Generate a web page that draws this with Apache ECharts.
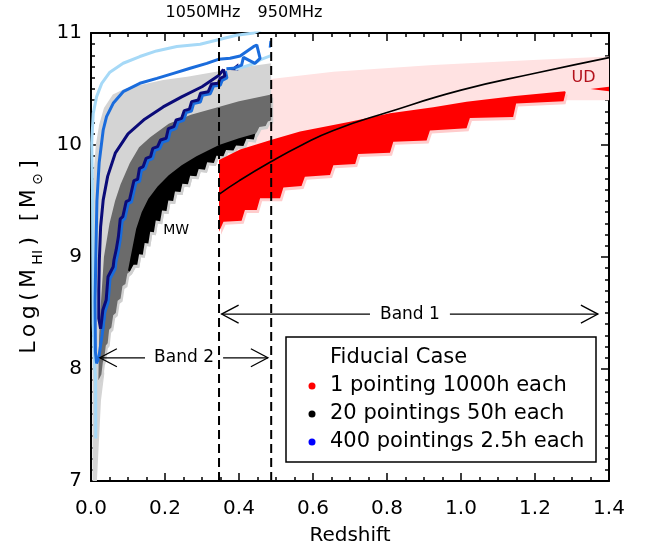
<!DOCTYPE html>
<html>
<head>
<meta charset="utf-8">
<script src="https://cdn.jsdelivr.net/npm/echarts@6/dist/echarts.min.js"></script>
<style>
html, body { margin: 0; padding: 0; background: #fff; }
#chart1 { width: 648px; height: 554px; }
</style>
</head>
<body>
<div id="chart1"></div>
<script>
// all points are [redshift, log M_HI]
var pinkTop = [[0.346, 10.50], [0.486, 10.59], [0.655, 10.655], [0.925, 10.714], [1.195, 10.759], [1.40, 10.79]];
var pinkBottom = [[1.40, 10.40], [1.285, 10.40], [1.0, 10.30], [0.8, 10.2], [0.6, 10.05], [0.346, 9.8]];
var redTop = [[0.346, 9.866], [0.403, 9.96], [0.486, 10.045], [0.565, 10.12], [0.70, 10.208], [0.808, 10.283],
    [0.925, 10.336], [1.015, 10.387], [1.146, 10.437], [1.281, 10.48]];
var redSteps = [[0.346, 9.226], [0.358, 9.315], [0.407, 9.324], [0.416, 9.42], [0.448, 9.42], [0.457, 9.524],
    [0.511, 9.524], [0.52, 9.62], [0.569, 9.634], [0.578, 9.717], [0.646, 9.732], [0.655, 9.82], [0.714, 9.83],
    [0.722, 9.92], [0.808, 9.93], [0.817, 10.03], [0.907, 10.04], [0.916, 10.13], [1.015, 10.15], [1.024, 10.24],
    [1.141, 10.25], [1.149, 10.37], [1.277, 10.39], [1.283, 10.47]];
var udWedge = [[1.35, 10.50], [1.40, 10.52], [1.40, 10.48]];

var lightGreyTop = [[0.004, 7.0], [0.004, 9.3], [0.007, 9.75], [0.013, 10.0], [0.022, 10.18], [0.035, 10.33],
    [0.059, 10.45], [0.09, 10.5], [0.124, 10.53], [0.195, 10.58], [0.26, 10.61], [0.33, 10.65], [0.4, 10.69], [0.487, 10.73]];
var lightGreyBottom = [[0.487, 10.35], [0.3, 10.15], [0.15, 9.85], [0.08, 9.4], [0.05, 9.0], [0.035, 8.5],
    [0.03, 8.1], [0.036, 7.96], [0.027, 7.72], [0.016, 7.0]];
var darkGreyLeft = [[0.02, 7.9], [0.022, 8.3], [0.027, 8.6], [0.035, 9.0], [0.05, 9.3], [0.065, 9.5], [0.08, 9.65],
    [0.105, 9.84], [0.13, 9.98], [0.16, 10.07], [0.21, 10.19], [0.27, 10.27], [0.345, 10.34], [0.40, 10.39], [0.487, 10.45]];
var darkGreyRight = [[0.487, 10.22], [0.478, 10.21], [0.472, 10.17], [0.455, 10.16], [0.449, 10.12]];
var darkGreyLowSteps = [[0.098, 8.85], [0.093, 8.76], [0.085, 8.74], [0.08, 8.63], [0.072, 8.61], [0.067, 8.5],
    [0.06, 8.48], [0.055, 8.37], [0.049, 8.35], [0.045, 8.23], [0.04, 8.21], [0.036, 8.1], [0.032, 8.06], [0.028, 7.95], [0.02, 7.9]];
var blackTop = [[0.1, 8.88], [0.11, 9.05], [0.122, 9.25], [0.137, 9.4], [0.155, 9.52], [0.18, 9.63], [0.21, 9.73],
    [0.245, 9.82], [0.285, 9.9], [0.346, 10.0], [0.4, 10.06], [0.443, 10.1]];
var blackSteps = [[0.443, 10.09], [0.440, 10.05], [0.420, 10.055], [0.412, 9.99], [0.392, 9.995], [0.385, 9.95],
    [0.365, 9.955], [0.358, 9.90], [0.339, 9.905], [0.332, 9.84], [0.314, 9.845], [0.308, 9.78], [0.291, 9.785],
    [0.285, 9.72], [0.268, 9.725], [0.262, 9.65], [0.247, 9.655], [0.242, 9.58], [0.227, 9.585], [0.222, 9.50],
    [0.209, 9.505], [0.204, 9.41], [0.192, 9.415], [0.187, 9.32], [0.175, 9.325], [0.170, 9.22], [0.160, 9.225],
    [0.155, 9.12], [0.145, 9.125], [0.140, 9.02], [0.130, 9.025], [0.125, 8.93], [0.115, 8.93], [0.105, 8.87]];

var lightBlueLine = [[0.013, 7.38], [0.0125, 7.9], [0.009, 8.1], [0.006, 8.4], [0.005, 9.0], [0.004, 9.6],
    [0.002, 10.02], [0.006, 10.28], [0.015, 10.43], [0.029, 10.55], [0.051, 10.65], [0.087, 10.73], [0.132, 10.79],
    [0.177, 10.84], [0.232, 10.88], [0.295, 10.90], [0.344, 10.94], [0.393, 10.98], [0.44, 11.0], [0.46, 11.03]];
var lightBlueRight = [[0.39, 10.675], [0.41, 10.695], [0.44, 10.725], [0.46, 10.765], [0.488, 10.80]];
var blueLine = [[0.04, 8.6], [0.03, 8.3], [0.021, 8.1], [0.015, 8.05], [0.012, 8.15], [0.011, 8.6], [0.013, 9.0],
    [0.016, 9.5], [0.022, 9.84], [0.033, 10.134], [0.042, 10.253], [0.06, 10.372], [0.087, 10.476], [0.132, 10.551],
    [0.178, 10.595], [0.223, 10.64], [0.268, 10.685], [0.313, 10.729], [0.344, 10.765], [0.376, 10.774],
    [0.403, 10.795], [0.439, 10.878], [0.448, 10.893], [0.457, 10.774], [0.443, 10.729], [0.412, 10.783],
    [0.407, 10.714], [0.385, 10.685], [0.366, 10.68]];
var blueTick = [[0.483, 10.87], [0.485, 10.93]];
var navyTop = [[0.026, 8.36], [0.021, 8.45], [0.021, 8.7], [0.0225, 8.97], [0.026, 9.27], [0.033, 9.51],
    [0.045, 9.72], [0.066, 9.93], [0.1, 10.1], [0.145, 10.23], [0.195, 10.34], [0.245, 10.43], [0.3, 10.52],
    [0.345, 10.62], [0.358, 10.676]];
var navySteps = [[0.358, 10.676], [0.362, 10.616], [0.349, 10.595], [0.344, 10.551], [0.326, 10.545],
    [0.317, 10.476], [0.296, 10.462], [0.29, 10.402], [0.272, 10.387], [0.266, 10.32], [0.252, 10.307],
    [0.245, 10.238], [0.23, 10.223], [0.224, 10.164], [0.209, 10.146], [0.203, 10.06], [0.188, 10.045],
    [0.18, 9.985], [0.167, 9.97], [0.161, 9.896], [0.149, 9.881], [0.141, 9.807], [0.131, 9.792], [0.126, 9.694],
    [0.116, 9.682], [0.104, 9.509], [0.095, 9.494], [0.086, 9.36], [0.079, 9.34], [0.074, 9.18], [0.068, 9.063],
    [0.062, 8.973], [0.06, 8.913], [0.046, 8.824], [0.041, 8.616], [0.032, 8.527], [0.028, 8.41], [0.026, 8.36]];
var navyWedge = [[0.376, 10.67], [0.398, 10.73], [0.398, 10.665]];

var modelCurve = [[0.346, 9.56], [0.40, 9.68], [0.486, 9.85], [0.57, 10.0], [0.655, 10.13], [0.8, 10.29],
    [1.0, 10.49], [1.2, 10.64], [1.4, 10.78]];
var dashZ = [0.346, 0.487];
// [from, to, level, gap start, gap end]
var band1 = [0.353, 1.37, 8.49, 0.754, 0.97];
var band2 = [0.024, 0.478, 8.1, 0.146, 0.357];
var notes = [['MW', 0.23, 9.24], ['UD', 1.331, 10.6]];

var xTicks = ['0.0', '0.2', '0.4', '0.6', '0.8', '1.0', '1.2', '1.4'];
var legendText = ['Fiducial Case', '1 pointing 1000h each', '20 pointings 50h each', '400 pointings 2.5h each'];
var legendColors = ['#ff0000', '#000000', '#0000ff'];

var FONT = 'DejaVu Sans';
var TS = '\u2009'; // thin space, mimics the wide letter spacing of the original
var chart1 = echarts.init(document.getElementById('chart1'));

function spaced(s) {
    return s.split('').join(TS);
}

function polygon(points, color, shadow) {
    return {
        type: 'custom',
        coordinateSystem: 'cartesian2d',
        clip: true,
        silent: true,
        data: [[0.5, 9]],
        renderItem: function (params, api) {
            var pts = points.map(function (p) { return api.coord(p); });
            var style = {fill: color};
            if (shadow) {
                style.shadowColor = shadow;
                style.shadowOffsetX = 2;
                style.shadowOffsetY = 3;
                style.shadowBlur = 0;
            }
            return {type: 'polygon', shape: {points: pts}, style: style};
        }
    };
}

function line(points, color, width, extra) {
    var ls = {color: color, width: width};
    if (extra) Object.assign(ls, extra);
    return {
        type: 'line', data: points, symbol: 'none', showSymbol: false,
        silent: true, lineStyle: ls, itemStyle: {color: color}, z: 3
    };
}

var series = [
    polygon(pinkTop.concat(pinkBottom), '#ffe2e2'),
    polygon(lightGreyTop.concat(lightGreyBottom), '#d4d4d4'),
    polygon(darkGreyLeft.concat(darkGreyRight, blackSteps, darkGreyLowSteps), '#6b6b6b', '#d0d0d0'),
    polygon(blackTop.concat(blackSteps), '#000000', '#d0d0d0'),
    polygon(redTop.concat(redSteps.slice().reverse()), '#ff0000', '#ffcccc'),
    polygon(udWedge, '#ff0000'),
    line(lightBlueLine, '#a6d9f7', 3),
    line(lightBlueRight, '#a6d9f7', 3),
    line(blueLine, '#1a6cdc', 3),
    line(blueTick, '#1a6cdc', 2),
    line(navyTop, '#0b0b78', 3),
    line(navySteps, '#0b0b78', 3, {shadowColor: '#1a6cdc', shadowOffsetX: 2, shadowOffsetY: 2, shadowBlur: 0}),
    polygon(navyWedge, '#0b0b78'),
    Object.assign(line(modelCurve, '#000000', 1.6), {smooth: true})
];
dashZ.forEach(function (z) {
    series.push(line([[z, 7], [z, 11]], '#000000', 2, {type: [9, 5]}));
});

// band arrows and small labels
series.push({
    type: 'custom',
    coordinateSystem: 'cartesian2d',
    silent: true,
    z: 4,
    data: [[0.5, 9]],
    renderItem: function (params, api) {
        var kids = [];
        var lineStyle = {stroke: '#000', lineWidth: 1.3, fill: null};
        [[band1, 'Band 1'], [band2, 'Band 2']].forEach(function (b) {
            var d = b[0];
            var a = api.coord([d[0], d[2]]), e = api.coord([d[1], d[2]]);
            var g1 = api.coord([d[3], d[2]]), g2 = api.coord([d[4], d[2]]);
            kids.push({type: 'line', shape: {x1: a[0], y1: a[1], x2: g1[0], y2: g1[1]}, style: lineStyle});
            kids.push({type: 'line', shape: {x1: g2[0], y1: g2[1], x2: e[0], y2: e[1]}, style: lineStyle});
            kids.push({type: 'polyline', shape: {points: [[a[0] + 17, a[1] - 9], a, [a[0] + 17, a[1] + 9]]}, style: lineStyle});
            kids.push({type: 'polyline', shape: {points: [[e[0] - 17, e[1] - 9], e, [e[0] - 17, e[1] + 9]]}, style: lineStyle});
            kids.push({type: 'text', x: (g1[0] + g2[0]) / 2, y: a[1], style: {
                text: b[1], fill: '#000', font: '17px "DejaVu Sans"', align: 'center', verticalAlign: 'middle'}});
        });
        notes.forEach(function (n) {
            var p = api.coord([n[1], n[2]]);
            kids.push({type: 'text', x: p[0], y: p[1], style: {
                text: n[0], fill: n[0] === 'UD' ? '#b3121c' : '#000',
                font: (n[0] === 'UD' ? '16px' : '14px') + ' "DejaVu Sans"', align: 'center', verticalAlign: 'middle'}});
        });
        return {type: 'group', children: kids};
    }
});

var tickStyle = {color: '#000', width: 1.5};
function xAxis(pos, labels) {
    return {
        type: 'value', min: 0, max: 1.4, interval: 0.2, position: pos,
        axisLine: {onZero: false, lineStyle: {color: '#000', width: 2}},
        axisTick: {inside: true, length: 8, lineStyle: tickStyle},
        minorTick: {show: true, splitNumber: 4, length: 4, lineStyle: tickStyle},
        splitLine: {show: false},
        axisLabel: {show: labels, margin: 18, color: '#000', fontSize: 20, fontFamily: FONT,
            formatter: function (v) { return xTicks[Math.round(v / 0.2)]; }},
        name: labels ? 'Redshift' : '', nameLocation: 'middle', nameGap: 45,
        nameTextStyle: {color: '#000', fontSize: 20, fontFamily: FONT}
    };
}
function yAxis(pos, labels) {
    var title = '{n|' + spaced('Log(M') + TS + '}{s|HI}{n|' + TS + ')' + TS + TS + ' [' + TS + 'M' + TS + '}{s|⊙}{n|' + TS + ']}';
    return {
        type: 'value', min: 7, max: 11, interval: 1, position: pos,
        axisLine: {onZero: false, lineStyle: {color: '#000', width: 2}},
        axisTick: {inside: true, length: 8, lineStyle: tickStyle},
        minorTick: {show: true, splitNumber: 10, length: 4, lineStyle: tickStyle},
        splitLine: {show: false},
        axisLabel: {show: labels, margin: 9, color: '#000', fontSize: 20, fontFamily: FONT},
        name: labels ? title : '',
        nameLocation: 'middle', nameRotate: 90, nameGap: 46,
        nameTextStyle: {color: '#000', fontFamily: FONT, rich: {
            n: {fontSize: 22, fontFamily: FONT, color: '#000', lineHeight: 32, verticalAlign: 'middle'},
            s: {fontSize: 14, fontFamily: FONT, color: '#000', lineHeight: 32, verticalAlign: 'bottom'}
        }}
    };
}

var graphics = [
    {type: 'text', z: 10, style: {text: '1050MHz', font: '16px "DejaVu Sans"', fill: '#000',
        x: 203, y: 13, align: 'center', verticalAlign: 'middle'}},
    {type: 'text', z: 10, style: {text: '950MHz', font: '16px "DejaVu Sans"', fill: '#000',
        x: 290, y: 13, align: 'center', verticalAlign: 'middle'}},
    {type: 'rect', shape: {x: 286, y: 337, width: 310, height: 125},
        style: {fill: '#fff', stroke: '#000', lineWidth: 1.5}, z: 10}
];
legendText.forEach(function (t, i) {
    var y = 358 + i * 28;
    graphics.push({type: 'text', z: 11, style: {text: t, font: '21px "DejaVu Sans"', fill: '#000',
        x: 330, y: y, align: 'left', verticalAlign: 'middle'}});
    if (i > 0) {
        graphics.push({type: 'circle', z: 11, shape: {cx: 312, cy: y, r: 3.5}, style: {fill: legendColors[i - 1]}});
    }
});

var option = {
    animation: false,
    backgroundColor: '#fff',
    grid: {left: 91, right: 39, top: 33, bottom: 73},
    xAxis: [xAxis('bottom', true), xAxis('top', false)],
    yAxis: [yAxis('left', true), yAxis('right', false)],
    series: series,
    graphic: graphics
};
chart1.setOption(option);
</script>
</body>
</html>
